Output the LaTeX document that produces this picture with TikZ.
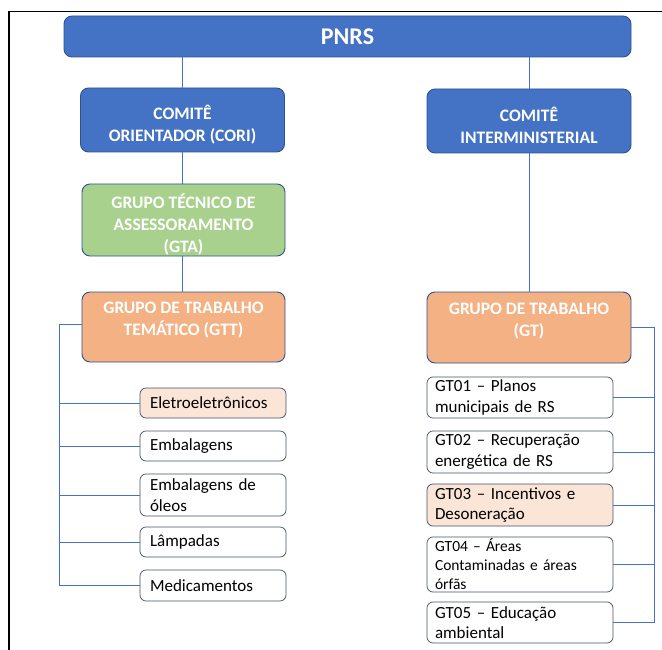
\documentclass[tikz,border=0pt]{standalone}
\usepackage{fontspec}
\setmainfont{Carlito}
\definecolor{bluefill}{HTML}{4472C4}
\definecolor{blueedge}{HTML}{2F528F}
\definecolor{greenfill}{HTML}{A9D18E}
\definecolor{orangefill}{HTML}{F4B183}
\definecolor{peach}{HTML}{FBE5D6}
\definecolor{leafedge}{HTML}{44546A}
\definecolor{conn}{HTML}{4472C4}
\newcommand\myleaffont{\fontsize{17}{20.5}\selectfont\spaceskip=0.17em\relax}
\newcommand\mysmallleaffont{\fontsize{15.5}{19}\selectfont\spaceskip=0.17em\relax}
\begin{document}
\begin{tikzpicture}[x=1pt,y=1pt,
  mainbox/.style={draw=blueedge, line width=0.9pt, rounded corners=8pt, inner sep=0pt},
  maintext/.style={text=white, font=\fontsize{17.5}{22}\selectfont\bfseries, align=center, inner sep=0pt},
  leafbox/.style={draw=leafedge, line width=0.7pt, rounded corners=6pt, fill=white,
    font=\myleaffont, align=left, inner xsep=10pt, inner ysep=1pt},
  conline/.style={draw=conn, line width=0.8pt}]
\useasboundingbox (0,0) rectangle (662,-650);
\fill[white] (0,0) rectangle (662,-650);
% frame
\draw[black, line width=1.5pt] (9,-650) -- (9,-11.5) -- (662,-11.5);
% main boxes
\node[mainbox, fill=bluefill, minimum width=567pt, minimum height=41pt] (pnrs) at (347.5,-36.5) {};
\node[maintext, font=\fontsize{24}{28}\selectfont\bfseries] (pnrs-t) at (pnrs.center) {PNRS};
\node[mainbox, fill=bluefill, minimum width=204pt, minimum height=64pt] (cori) at (182.5,-120) {};
\node[maintext, yshift=-5pt] (cori-t) at (cori.center) {COMITÊ\\ORIENTADOR (CORI)};
\node[mainbox, fill=bluefill, minimum width=204pt, minimum height=64pt] (ci) at (529,-121) {};
\node[maintext, yshift=-4pt] (ci-t) at (ci.center) {COMITÊ\\INTERMINISTERIAL};
\node[mainbox, fill=greenfill, minimum width=203pt, minimum height=72pt] (gta) at (183.5,-220) {};
\node[maintext, yshift=-4pt] (gta-t) at (gta.center) {GRUPO TÉCNICO DE\\ASSESSORAMENTO\\(GTA)};
\node[mainbox, fill=orangefill, minimum width=203pt, minimum height=70pt] (gtt) at (183.5,-327) {};
\node[maintext, yshift=7pt] (gtt-t) at (gtt.center) {GRUPO DE TRABALHO\\TEMÁTICO (GTT)};
\node[mainbox, fill=orangefill, minimum width=204pt, minimum height=71pt] (gt) at (529,-327.5) {};
\node[maintext, yshift=6pt] (gt-t) at (gt.center) {GRUPO DE TRABALHO\\(GT)};
% left leaves
\node[leafbox, fill=peach, text width=126pt, minimum height=30pt] (le1) at (213,-403) {Eletroeletrônicos};
\node[leafbox, text width=126pt, minimum height=30pt] (le2) at (213,-446) {Embalagens};
\node[leafbox, text width=126pt, minimum height=42pt] (le3) at (213,-495) {Embalagens de\\óleos};
\node[leafbox, text width=126pt, minimum height=30pt] (le4) at (213,-542) {Lâmpadas};
\node[leafbox, text width=126pt, minimum height=31pt] (le5) at (213,-585.5) {Medicamentos};
% right leaves
\node[leafbox, text width=170pt, minimum height=41pt, inner xsep=8pt] (r1) at (520,-397.5) {GT01 – Planos\\municipais de RS};
\node[leafbox, text width=170pt, minimum height=42pt, inner xsep=8pt] (r2) at (520,-452) {GT02 – Recuperação\\energética de RS};
\node[leafbox, fill=peach, text width=170pt, minimum height=42pt, inner xsep=8pt] (r3) at (520,-505) {GT03 – Incentivos e\\Desoneração};
\node[leafbox, text width=170pt, minimum height=55pt, inner xsep=8pt, font=\mysmallleaffont] (r4) at (520,-564.5) {GT04 – Áreas\\Contaminadas e áreas\\órfãs};
\node[leafbox, text width=170pt, minimum height=41pt, inner xsep=8pt] (r5) at (520,-622.5) {GT05 – Educação\\ambiental};
% vertical connectors
\draw[conline] (cori.north) -- (cori.north |- pnrs.south);
\draw[conline] (ci.north) -- (ci.north |- pnrs.south);
\draw[conline] (cori.south) -- (gta.north -| cori.south);
\draw[conline] (gta.south -| cori.south) -- (gtt.north -| cori.south);
\draw[conline] (ci.south) -- (gt.north -| ci.south);
% left bus
\coordinate (lb) at (59,-324);
\draw[conline] (gtt.west |- lb) -- (lb) -- (lb |- le5.west) -- (le5.west);
\foreach \n in {le1,le2,le3,le4} \draw[conline] (lb |- \n.west) -- (\n.west);
% right bus
\coordinate (rb) at (654,-327);
\draw[conline] (gt.east |- rb) -- (rb) -- (rb |- r5.east) -- (r5.east);
\foreach \n in {r1,r2,r3,r4} \draw[conline] (rb |- \n.east) -- (\n.east);
\end{tikzpicture}
\end{document}
